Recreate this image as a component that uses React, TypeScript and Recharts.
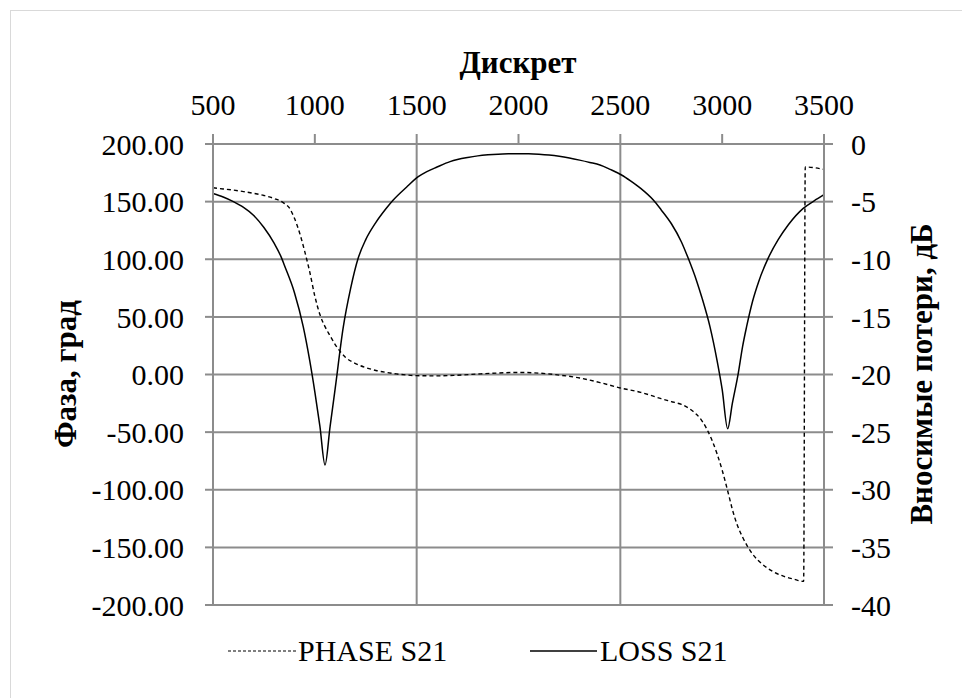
import React from "react";
import { LineChart, Line, XAxis, YAxis, CartesianGrid, ReferenceLine } from "recharts";

const FONT = '"Liberation Serif", "Times New Roman", serif';
const GRID = "#8c8c8c";
const INK = "#000000";

// x axis ("Дискрет")
const xTicks = [500, 1000, 1500, 2000, 2500, 3000, 3500];
const xGrid = [1500, 2500];

// left axis: phase, degrees
const phaseTicks = [-200, -150, -100, -50, 0, 50, 100, 150, 200];
// right axis: insertion loss, dB
const lossTicks = [-40, -35, -30, -25, -20, -15, -10, -5, 0];

// PHASE S21
const phaseX = [500, 550, 600, 650, 700, 750, 800, 850, 875, 900, 925, 950, 975, 1000, 1025, 1050, 1075, 1100, 1150, 1200, 1250, 1300, 1350, 1400, 1450, 1500, 1600, 1700, 1800, 1900, 2000, 2100, 2200, 2300, 2400, 2500, 2600, 2645, 2700, 2750, 2800, 2850, 2900, 2950, 3000, 3030, 3050, 3075, 3100, 3150, 3200, 3250, 3300, 3350, 3400, 3408, 3500];
const phaseDeg = [162, 161, 160, 158.7, 157.2, 155.3, 152.7, 148.5, 144.5, 135.5, 123, 107, 89, 68, 52, 41.5, 33.5, 26, 15, 9.5, 6, 3.5, 1.8, 0.5, -0.4, -1, -1.2, -0.6, 0.4, 1.3, 1.8, 1.2, -0.5, -3, -7, -11.7, -15.5, -17.8, -21, -23.5, -26, -31, -40, -57, -83, -103, -117, -131, -141, -156, -165, -171, -175, -177.5, -179.5, 180, 178];

// LOSS S21
const lossX = [500, 550, 600, 650, 700, 750, 800, 837, 850, 900, 943, 975, 1000, 1025, 1050, 1075, 1100, 1140, 1175, 1213, 1250, 1300, 1350, 1385, 1450, 1508, 1550, 1600, 1664, 1700, 1750, 1800, 1850, 1900, 1950, 2000, 2050, 2100, 2150, 2200, 2250, 2300, 2350, 2400, 2450, 2506, 2550, 2600, 2662, 2700, 2750, 2800, 2833, 2875, 2900, 2940, 2975, 3000, 3027, 3050, 3079, 3100, 3120, 3150, 3180, 3226, 3275, 3325, 3398, 3450, 3500];
const lossDb = [-4.3, -4.6, -5.0, -5.5, -6.2, -7.25, -8.6, -9.9, -10.5, -12.9, -15.85, -18.8, -21.5, -24.5, -27.85, -24.5, -21.2, -15.85, -12.6, -9.9, -8.3, -6.8, -5.6, -4.86, -3.75, -2.84, -2.4, -2.0, -1.53, -1.35, -1.17, -1.03, -0.94, -0.88, -0.85, -0.84, -0.85, -0.89, -0.96, -1.07, -1.22, -1.4, -1.6, -1.82, -2.2, -2.69, -3.2, -3.85, -4.86, -5.7, -6.9, -8.5, -9.9, -11.9, -13.3, -15.85, -18.8, -21.3, -24.7, -22.5, -19.9, -17.6, -15.85, -13.6, -11.9, -9.9, -8.3, -7.0, -5.58, -4.95, -4.4];

const phaseData = phaseX.map((x, i) => ({ x, phase: phaseDeg[i] }));
const lossData = lossX.map((x, i) => ({ x, loss: lossDb[i] }));

const tickStyle = { fill: INK, fontSize: 30, fontFamily: FONT };

function Overlay() {
  const title = { fontFamily: FONT, fontSize: 31, fontWeight: 700, fill: INK } as const;
  const legendText = { fontFamily: FONT, fontSize: 30, fill: INK } as const;
  return (
    <svg width={962} height={698} style={{ position: "absolute", left: 0, top: 0, pointerEvents: "none" }}>
      <text x={518} y={73} textAnchor="middle" style={title}>Дискрет</text>
      <text x={65} y={374} textAnchor="middle" dominantBaseline="central" transform="rotate(-90 65 374)" style={title}>
        Фаза, град
      </text>
      <text x={921} y={374} textAnchor="middle" dominantBaseline="central" transform="rotate(-90 921 374)" style={title}>
        Вносимые потери, дБ
      </text>
      {/* legend */}
      <line x1={228} x2={296} y1={651} y2={651} stroke={INK} strokeWidth={1.2} strokeDasharray="3 2" />
      <text x={298} y={661} style={legendText}>PHASE S21</text>
      <line x1={530} x2={597} y1={651} y2={651} stroke={INK} strokeWidth={1.5} />
      <text x={600} y={661} style={legendText}>LOSS S21</text>
    </svg>
  );
}

export default function App() {
  return (
    <div style={{ position: "absolute", left: 0, top: 0, width: 962, height: 698, background: "#fff", fontFamily: FONT }}>
      <div style={{ position: "absolute", left: 10, top: 10, width: 960, height: 700, border: "1px solid #d9d9d9" }} />
      <LineChart width={962} height={698} margin={{ top: 84, right: 38, left: 113, bottom: 93 }}>
        <CartesianGrid yAxisId="left" vertical={false} stroke={GRID} strokeWidth={2} />
        <XAxis
          dataKey="x"
          type="number"
          orientation="top"
          domain={[500, 3500]}
          ticks={xTicks}
          height={60}
          allowDuplicatedCategory={false}
          stroke={GRID}
          axisLine={{ stroke: GRID, strokeWidth: 2 }}
          tickLine={{ stroke: GRID, strokeWidth: 2 }}
          tickSize={10}
          tickMargin={19}
          tick={tickStyle}
        />
        <YAxis
          yAxisId="left"
          domain={[-200, 200]}
          ticks={phaseTicks}
          width={100}
          axisLine={{ stroke: GRID, strokeWidth: 2 }}
          tickLine={{ stroke: GRID, strokeWidth: 2 }}
          tickSize={8}
          tickMargin={21}
          tick={tickStyle}
          tickFormatter={(v: number) => v.toFixed(2)}
        />
        <YAxis
          yAxisId="right"
          orientation="right"
          domain={[-40, 0]}
          ticks={lossTicks}
          width={100}
          axisLine={{ stroke: GRID, strokeWidth: 2 }}
          tickLine={{ stroke: GRID, strokeWidth: 2 }}
          tickSize={9}
          tickMargin={18}
          tick={tickStyle}
        />
        {xGrid.map((v) => (
          <ReferenceLine key={v} yAxisId="left" x={v} stroke={GRID} strokeWidth={2} />
        ))}
        <Line
          yAxisId="left"
          data={phaseData}
          dataKey="phase"
          type="monotone"
          stroke={INK}
          strokeWidth={1.4}
          strokeDasharray="4 3"
          dot={false}
          isAnimationActive={false}
        />
        <Line
          yAxisId="right"
          data={lossData}
          dataKey="loss"
          type="monotone"
          stroke={INK}
          strokeWidth={1.5}
          dot={false}
          isAnimationActive={false}
        />
      </LineChart>
      <Overlay />
    </div>
  );
}
